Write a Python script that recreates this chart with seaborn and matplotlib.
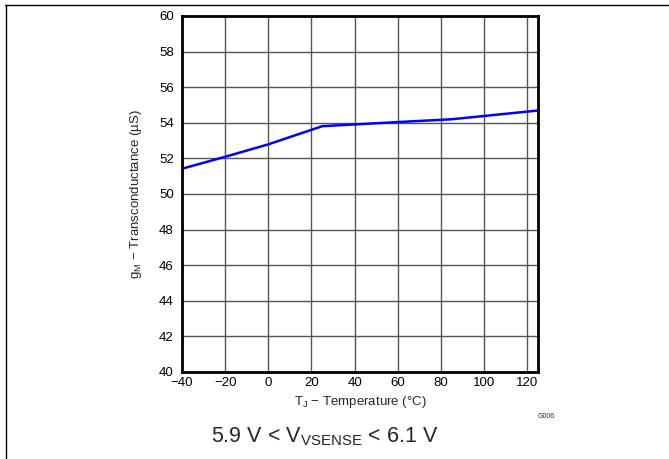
import matplotlib
matplotlib.use("Agg")
import matplotlib.pyplot as plt
import seaborn as sns
import pandas as pd
from matplotlib.lines import Line2D

temperature_c = [-40, -20, 0, 25, 60, 85, 125]
gm_us = [51.42, 52.09, 52.79, 53.81, 54.04, 54.2, 54.69]
x_ticks = [-40, -20, 0, 20, 40, 60, 80, 100, 120]
y_ticks = [40, 42, 44, 46, 48, 50, 52, 54, 56, 58, 60]

sns.set_theme(style="white")
plt.rcParams['font.family'] = ['Liberation Sans', 'DejaVu Sans']
plt.rcParams['axes.unicode_minus'] = True

df = pd.DataFrame({"T": temperature_c, "gm": gm_us})

fig = plt.figure(figsize=(6.69, 4.59), dpi=100)
ax = fig.add_axes([182/669, 1 - 372/459, (538 - 182)/669, (372 - 16)/459])

sns.lineplot(data=df, x="T", y="gm", ax=ax, color="#0000ff", linewidth=1.8)

ax.set_xlim(-40, 125)
ax.set_ylim(40, 60)
ax.set_xticks(x_ticks)
ax.set_yticks(y_ticks)
ax.set_xticklabels([f"{t}".replace("-", "\u2212") for t in x_ticks], fontsize=9.5)
ax.set_yticklabels([str(t) for t in y_ticks], fontsize=9.5)
ax.tick_params(axis="x", length=0, pad=3.5, colors="black")
ax.tick_params(axis="y", length=0, pad=6, colors="black")
ax.grid(True, color="#555555", linewidth=1.0)
ax.set_axisbelow(True)
for s in ax.spines.values():
    s.set_color("black")
    s.set_linewidth(2.0)

ax.set_xlabel("T$_\\mathregular{J}$ \u2212 Temperature (°C)", fontsize=9.5, labelpad=4)
ax.set_ylabel("g$_\\mathregular{M}$ \u2212 Transconductance (µS)", fontsize=9.5, labelpad=11)

fig.text(546/669, 1 - 416/459, "G006", fontsize=5, ha="center", va="center")
fig.text(325/669, 1 - 437/459,
         "5.9 V < V$_\\mathregular{VSENSE}$ < 6.1 V", fontsize=15.5, ha="center", va="center")

# outer frame (top and left)
fig.add_artist(Line2D([5/669, 1.0], [1 - 4.5/459, 1 - 4.5/459], transform=fig.transFigure,
                      color="black", linewidth=1.0))
fig.add_artist(Line2D([5.5/669, 5.5/669], [0, 1 - 4.5/459], transform=fig.transFigure,
                      color="black", linewidth=1.0))

fig.savefig("out.png", dpi=100)
